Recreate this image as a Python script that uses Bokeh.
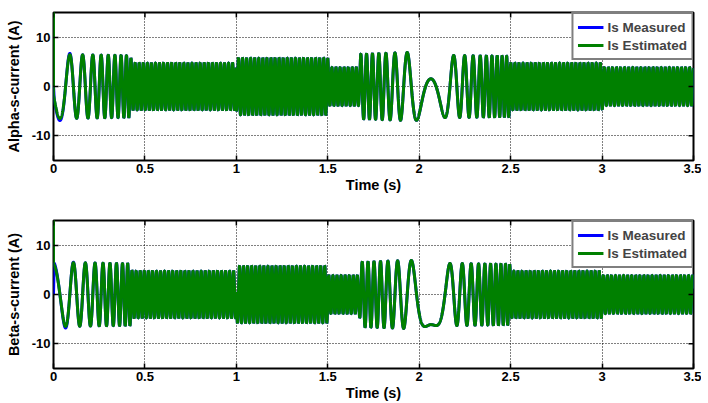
import numpy as np
from bokeh.plotting import figure
from bokeh.layouts import column
from bokeh.models import Range1d, FixedTicker, Legend, LegendItem
from bokeh.embed import file_html
from bokeh.resources import INLINE

# ---------------- data ----------------
T_END = 3.5
DT = 0.0004

# stator-current envelope (A) of the estimated current, at time knots (s)
amp_t = [0.0, 0.42, 0.43, 1.0, 1.005, 1.5, 1.505, 1.672, 1.68, 1.93, 1.98, 2.06, 2.14, 2.20, 2.495, 2.50, 3.0, 3.005, 3.5]
amp_v = [6.5, 6.3, 4.8, 4.8, 5.8, 5.8, 3.9, 3.9, 6.6, 6.9, 6.9, 6.3, 6.3, 6.3, 6.2, 4.8, 4.8, 3.9, 3.9]

# electrical frequency (Hz) at time knots (s); sign = rotation direction
freq_t = [0.0, 0.04, 0.10, 0.16, 0.19, 0.24, 0.28, 0.33, 0.37, 0.40, 0.43, 1.66, 1.685, 1.73, 1.80,
          1.845, 1.90, 1.958, 2.064, 2.141, 2.188, 2.246, 2.30, 2.35, 2.45, 2.50, 3.5]
freq_hz = [5, 7, 13, 16.3, 18, 22, 26, 28, 31, 37, 45, 45, 32, 31, 26,
           19.6, 15, 10, 0, -7.5, -13.5, -19.5, -24, -30, -38, -45, -45]

# phase anchors (rad): start of run, and instant of speed reversal
phase_start_t, phase_start = 0.0, 1.84
phase_rev_t, phase_rev = 2.064, 3 * np.pi / 2 + 0.25
phase_split_t = 1.0

# measured / estimated ratio during the first instants
gain_t = [0.0, 0.004, 0.02, 0.09, 0.12]
gain_v = [0.0, 1.07, 1.07, 1.04, 1.0]

# initial value of the estimator (off scale)
est_initial = 16.0

x_ticks = [0, 0.5, 1, 1.5, 2, 2.5, 3, 3.5]
x_tick_labels = ["0", "0.5", "1", "1.5", "2", "2.5", "3", "3.5"]
y_ticks = [-10, 0, 10]
y_tick_labels = ["-10", "0", "10"]
x_lim = (0, 3.5)
y_lim = (-15, 15)

y_labels = ["Alpha-s-current (A)", "Beta-s-current (A)"]
x_label = "Time (s)"
series_names = ["Is Measured", "Is Estimated"]
colors = ["#0000ff", "#008000"]

# ---------------- signal construction ----------------
t = np.arange(0, T_END + DT / 2, DT)
f = np.interp(t, freq_t, freq_hz)
cyc = np.concatenate([[0.0], np.cumsum((f[1:] + f[:-1]) / 2 * np.diff(t))])


def phase_from(t0, ph0):
    return ph0 + 2 * np.pi * (cyc - np.interp(t0, t, cyc))


theta = np.where(t < phase_split_t, phase_from(phase_start_t, phase_start),
                 phase_from(phase_rev_t, phase_rev))
A = np.interp(t, amp_t, amp_v)
gain = np.interp(t, gain_t, gain_v)
est = [A * np.cos(theta), A * np.sin(theta)]
meas = [e * gain for e in est]

FONT = "Liberation Sans"
TICK_PX = 5
FRAME_W = 640
FRAME_H = 148


def make_fig(idx, top, bottom):
    p = figure(frame_width=FRAME_W, frame_height=FRAME_H, output_backend="svg", toolbar_location=None,
               x_range=Range1d(*x_lim), y_range=Range1d(*y_lim),
               min_border_left=53, min_border_right=8, min_border_top=top, min_border_bottom=bottom)
    p.background_fill_color = "white"
    p.border_fill_color = "white"
    p.outline_line_color = "black"
    p.outline_line_width = 2
    p.outline_line_alpha = 1

    r_meas = p.line(t, meas[idx], line_color=colors[0], line_width=3)
    r_est = p.line(np.concatenate([[0.0], t]), np.concatenate([[est_initial], est[idx]]),
                   line_color=colors[1], line_width=3)

    for ax in (p.xaxis, p.yaxis):
        ax.axis_line_color = None
        ax.major_tick_in = TICK_PX
        ax.major_tick_out = 0
        ax.minor_tick_line_color = None
        ax.major_tick_line_color = "black"
        ax.major_tick_line_width = 1.5
        ax.major_label_text_font = FONT
        ax.major_label_text_font_style = "bold"
        ax.major_label_text_font_size = "13px"
        ax.major_label_text_color = "black"
        ax.axis_label_text_font = FONT
        ax.axis_label_text_font_style = "bold"
        ax.axis_label_text_font_size = "14.5px"
        ax.axis_label_text_color = "black"
    p.xaxis.ticker = FixedTicker(ticks=x_ticks)
    p.xaxis.major_label_overrides = dict(zip(x_ticks, x_tick_labels))
    p.yaxis.ticker = FixedTicker(ticks=y_ticks)
    p.yaxis.major_label_overrides = dict(zip(y_ticks, y_tick_labels))
    p.xaxis.axis_label = x_label
    p.yaxis.axis_label = y_labels[idx]
    p.xaxis.major_label_standoff = 3
    p.xaxis.axis_label_standoff = 1
    p.yaxis.major_label_standoff = 3
    p.yaxis.axis_label_standoff = 7

    # mirrored tick marks on the top and right edges (box on)
    dx = TICK_PX * (x_lim[1] - x_lim[0]) / FRAME_W
    dy = TICK_PX * (y_lim[1] - y_lim[0]) / FRAME_H
    p.segment(x0=x_ticks, x1=x_ticks, y0=[y_lim[1]] * len(x_ticks),
              y1=[y_lim[1] - dy] * len(x_ticks), line_color="black", line_width=1.5)
    p.segment(x0=[x_lim[1]] * len(y_ticks), x1=[x_lim[1] - dx] * len(y_ticks),
              y0=y_ticks, y1=y_ticks, line_color="black", line_width=1.5)

    for g in (p.xgrid, p.ygrid):
        g.grid_line_color = "black"
        g.grid_line_dash = "1 2"
        g.grid_line_width = 1
        g.grid_line_alpha = 1
    p.xgrid.ticker = FixedTicker(ticks=x_ticks)
    p.ygrid.ticker = FixedTicker(ticks=y_ticks)

    leg = Legend(items=[LegendItem(label=series_names[0], renderers=[r_meas]),
                        LegendItem(label=series_names[1], renderers=[r_est])],
                 location="top_right", margin=0, padding=4, spacing=0,
                 label_text_font=FONT, label_text_font_style="bold",
                 label_text_font_size="13.5px", label_height=18, glyph_width=26,
                 glyph_height=18, label_standoff=4,
                 border_line_color="black", border_line_width=2,
                 background_fill_color="white", background_fill_alpha=1)
    p.add_layout(leg)
    return p


p1 = make_fig(0, 12, 40)
p2 = make_fig(1, 20, 34)
layout = column(p1, p2, spacing=0)

open("out.html", "w").write(file_html(layout, INLINE))
